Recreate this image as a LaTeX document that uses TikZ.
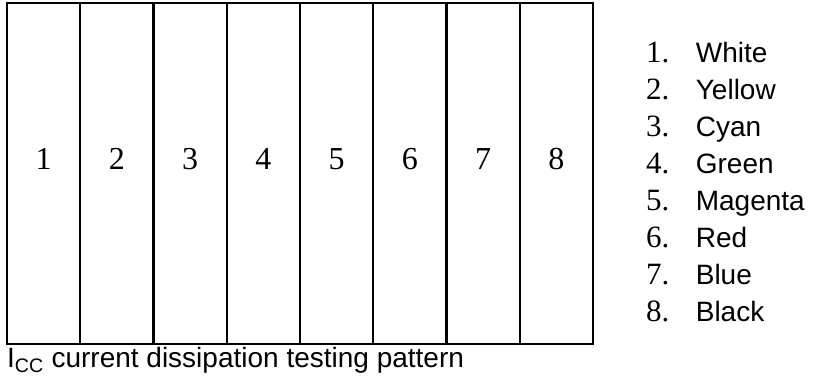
\documentclass[tikz,border=0pt]{standalone}
\usepackage{fontspec}
\setmainfont{Liberation Serif}
\newfontfamily\arialfont{Liberation Sans}
\usepackage{tikz}
\usetikzlibrary{positioning}

\begin{document}
\begin{tikzpicture}[
    x=1pt, y=1pt,
    node distance=8pt and 26pt,
    cell/.style={rectangle, draw, line width=2.2pt, outer sep=0pt, inner sep=0pt, minimum width=73.25pt, minimum height=341pt, text height=22pt, text depth=29pt, font=\fontsize{32}{38}\selectfont},
    num/.style={anchor=west, inner sep=0pt, text height=22pt, text depth=6.6pt, font=\fontsize{31}{36}\selectfont},
    colname/.style={num, font=\arialfont\fontsize{28}{34}\selectfont}
]
    \useasboundingbox (0,0) rectangle (817,-379);

    % Test pattern: eight vertical bars
    \node[cell] (c1) at (43.6,-173.5) {1};
    \node[cell, right=0pt of c1] (c2) {2};
    \node[cell, right=0pt of c2] (c3) {3};
    \node[cell, right=0pt of c3] (c4) {4};
    \node[cell, right=0pt of c4] (c5) {5};
    \node[cell, right=0pt of c5] (c6) {6};
    \node[cell, right=0pt of c6] (c7) {7};
    \node[cell, right=0pt of c7] (c8) {8};

    % Legend: bar colours
    \node[num] (n1) at (646,-54.5) {1.};
    \node[num, below=of n1] (n2) {2.};
    \node[num, below=of n2] (n3) {3.};
    \node[num, below=of n3] (n4) {4.};
    \node[num, below=of n4] (n5) {5.};
    \node[num, below=of n5] (n6) {6.};
    \node[num, below=of n6] (n7) {7.};
    \node[num, below=of n7] (n8) {8.};

    \node[colname, right=of n1] (white) {White};
    \node[colname, right=of n2] (yellow) {Yellow};
    \node[colname, right=of n3] (cyan) {Cyan};
    \node[colname, right=of n4] (green) {Green};
    \node[colname, right=of n5] (magenta) {Magenta};
    \node[colname, right=of n6] (red) {Red};
    \node[colname, right=of n7] (blue) {Blue};
    \node[colname, right=of n8] (black) {Black};

    % Caption
    \node[anchor=base west, inner sep=0pt, font=\arialfont\fontsize{28}{34}\selectfont] (caption) at (7,-367) {I\textsubscript{CC} current dissipation testing pattern};
\end{tikzpicture}
\end{document}
